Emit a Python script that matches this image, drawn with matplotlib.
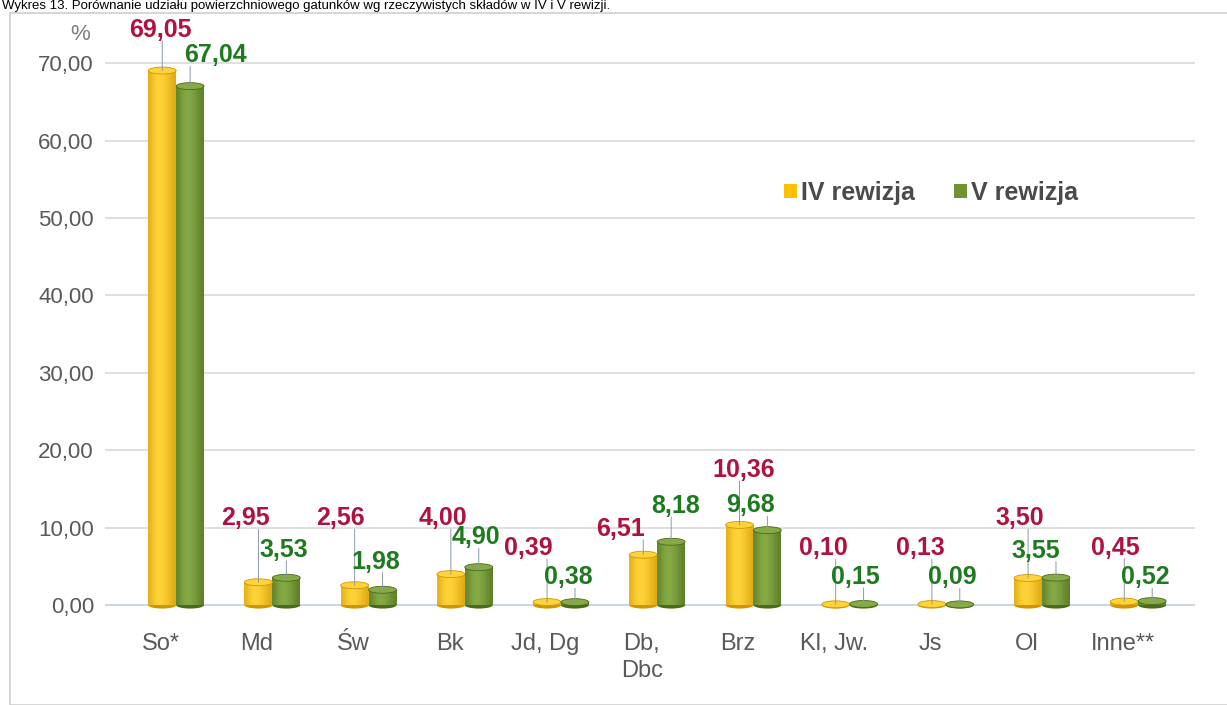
import numpy as np
import matplotlib.pyplot as plt
import matplotlib.colors as mc
from matplotlib.patches import Ellipse, Rectangle

# Dane
kategorie = ["So*", "Md", "Św", "Bk", "Jd, Dg", "Db,\nDbc", "Brz", "Kl, Jw.", "Js", "Ol", "Inne**"]
rewizja_iv = [69.05, 2.95, 2.56, 4.00, 0.39, 6.51, 10.36, 0.10, 0.13, 3.50, 0.45]
rewizja_v = [67.04, 3.53, 1.98, 4.90, 0.38, 8.18, 9.68, 0.15, 0.09, 3.55, 0.52]
serie = ["IV rewizja", "V rewizja"]

# przesunięcia etykiet (piksele)
off_iv = [(-2, 41), (-13, 64), (-14, 67), (-8, 56), (-19, 54), (-23, 26), (4, 55), (-12, 56), (-12, 56), (-8, 60), (-9, 54)]
off_v = [(25, 31), (-3, 28), (-7, 28), (-3, 30), (-7, 25), (4, 36), (-17, 25), (-8, 27), (-7, 27), (-20, 27), (-7, 24)]

plt.rcParams['font.family'] = ['Liberation Sans', 'DejaVu Sans']

W, H = 1227, 705
fig = plt.figure(figsize=(W / 100, H / 100), dpi=100)

# ramka wykresu
fig.patches.append(Rectangle((10 / W, 0), 1.2, 1 - 13 / H, transform=fig.transFigure,
                             facecolor='none', edgecolor='#d0d0d0', lw=1.2))
fig.text(2 / W, 1, "Wykres 13. Porównanie udziału powierzchniowego gatunków wg rzeczywistych składów w IV i V rewizji.",
         fontsize=9.5, va='top', ha='left', color='black')

left, right, bottom, top = 105, 1195, 614, 40
ax = fig.add_axes([left / W, 1 - bottom / H, (right - left) / W, (bottom - top) / H])
ax.set_xlim(-0.74, 10.59)
ax.set_ylim(-1.15, 73)

x = np.arange(len(kategorie))
w = 0.29
kolory = [("#FFC000", "#d09600", "#ffd43a"), ("#6f9330", "#4a6a1d", "#86aa45")]

grad = np.array([0.45, 0.75, 0.95, 1.0, 0.9, 0.75, 0.55, 0.35])

def cylinder(xc, v, base, dark, light):
    rect = Rectangle((xc - w / 2, 0), w, v, facecolor=base, edgecolor='none', zorder=3)
    ax.add_patch(rect)
    c0 = np.array(mc.to_rgb(dark))
    c1 = np.array(mc.to_rgb(light))
    img = c0[None, :] + (c1 - c0)[None, :] * grad[:, None]
    im = ax.imshow(img[None, :, :], extent=(xc - w / 2, xc + w / 2, 0, v), aspect='auto',
                   zorder=3, interpolation='bicubic')
    im.set_clip_path(rect)
    ax.add_patch(Ellipse((xc, 0), w, 0.9, facecolor=dark, edgecolor='none', zorder=2.9))
    ax.add_patch(Ellipse((xc, v), w, 0.9, facecolor=light, edgecolor=dark, lw=0.6, zorder=3.1))

for i in range(len(kategorie)):
    cylinder(x[i] - w / 2, rewizja_iv[i], *kolory[0])
    cylinder(x[i] + w / 2, rewizja_v[i], *kolory[1])

# etykiety wartości z liniami odniesienia
for i in range(len(kategorie)):
    for vals, offs, xs, col in [(rewizja_iv, off_iv, x[i] - w / 2, '#b0123f'),
                                (rewizja_v, off_v, x[i] + w / 2, '#1f7a1f')]:
        ax.annotate(f"{vals[i]:.2f}".replace('.', ','), xy=(xs, vals[i]), xytext=offs[i],
                    textcoords='offset pixels', ha='center', va='center', fontsize=18,
                    fontweight='bold', color=col, zorder=5)
        ax.annotate("", xy=(xs, vals[i]), xytext=(0, offs[i][1] - 11), textcoords='offset pixels',
                    zorder=4, arrowprops=dict(arrowstyle='-', color='#8c99aa', lw=0.7,
                                              shrinkA=0, shrinkB=0))

ax.set_yticks(np.arange(0, 71, 10))
ax.set_yticklabels([f"{v:.2f}".replace('.', ',') for v in np.arange(0, 71, 10)])
ax.set_xticks(x - 0.16)
ax.set_xticklabels(kategorie, linespacing=1.25)
ax.tick_params(axis='both', length=0, colors='#595959')
ax.tick_params(axis='y', pad=8, labelsize=16)
ax.tick_params(axis='x', pad=14, labelsize=17)
ax.grid(axis='y', color='#d9d9d9', lw=1.2, zorder=0)
ax.set_axisbelow(True)
for s in ax.spines.values():
    s.set_visible(False)
ax.axhline(0, color='#c9d3ea', lw=1.2, zorder=1)

fig.text(80 / W, 1 - 35 / H, "%", fontsize=16, color='#7f7f7f', ha='center', va='center')

h1 = Rectangle((0, 0), 1, 1, facecolor=kolory[0][0])
h2 = Rectangle((0, 0), 1, 1, facecolor=kolory[1][0])
leg = fig.legend([h1, h2], serie, loc='center', bbox_to_anchor=(931 / W, 1 - 193 / H), ncol=2,
                 frameon=False, handlelength=0.5, handleheight=0.5, handletextpad=0.15,
                 columnspacing=1.6, prop={'size': 18, 'weight': 'bold'})
for t in leg.get_texts():
    t.set_color('#4a4a4a')

fig.savefig("out.png", dpi=100)
